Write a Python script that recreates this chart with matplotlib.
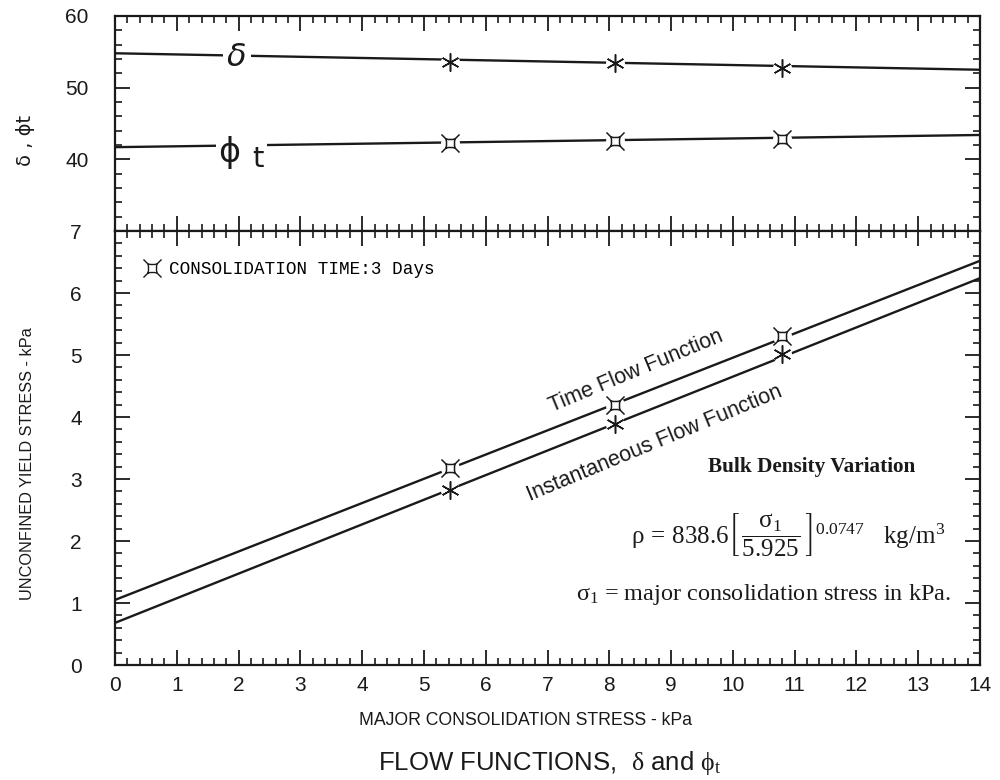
import numpy as np
import matplotlib
matplotlib.use("Agg")
import matplotlib.pyplot as plt
from matplotlib.path import Path
from matplotlib.lines import Line2D
from matplotlib.ticker import MultipleLocator

# ---------------- data ----------------
x_line = [0.0, 14.0]                      # ends of fitted lines
x_pts = [5.42, 8.1, 10.8]                 # consolidation stresses tested

delta_line = [54.8, 52.5]
delta_pts = [53.6, 53.4, 52.7]
phit_line = [41.7, 43.4]
phit_pts = [42.3, 42.6, 42.9]

time_ff_line = [1.05, 6.52]
time_ff_pts = [3.17, 4.2, 5.3]
inst_ff_line = [0.68, 6.24]
inst_ff_pts = [2.83, 3.88, 5.02]

x_ticks = list(range(0, 15))
y_ticks_bottom = list(range(0, 8))
y_ticks_top = [40, 50, 60]

plt.rcParams['font.family'] = ['Liberation Sans', 'DejaVu Sans']
plt.rcParams['mathtext.fontset'] = 'custom'
plt.rcParams['mathtext.rm'] = 'Liberation Serif'
plt.rcParams['mathtext.it'] = 'Liberation Serif'
plt.rcParams['mathtext.bf'] = 'Liberation Serif:bold'
plt.rcParams['mathtext.fallback'] = 'stix'
INK = '#1a1a1a'

# custom "time" marker: concave square with corner spikes
s = 0.42
verts = [(-s, -s), (0, -0.25), (s, -s),
         (0.25, 0), (s, s),
         (0, 0.25), (-s, s),
         (-0.25, 0), (-s, -s),
         (s, -s), (0.8, -0.8),
         (s, s), (0.8, 0.8),
         (-s, s), (-0.8, 0.8),
         (-s, -s), (-0.8, -0.8)]
codes = [Path.MOVETO, Path.CURVE3, Path.CURVE3,
         Path.CURVE3, Path.CURVE3,
         Path.CURVE3, Path.CURVE3,
         Path.CURVE3, Path.CURVE3,
         Path.MOVETO, Path.LINETO,
         Path.MOVETO, Path.LINETO,
         Path.MOVETO, Path.LINETO,
         Path.MOVETO, Path.LINETO]
time_marker = Path(verts, codes)
star_marker = (6, 2, 0)

fig = plt.figure(figsize=(10, 7.8), dpi=100)
ax_top = fig.add_axes([0.115, 0.7038, 0.865, 0.2757])
ax = fig.add_axes([0.115, 0.1474, 0.865, 0.5564], sharex=ax_top)

def style(a):
    for sp in a.spines.values():
        sp.set_linewidth(1.6)
        sp.set_color(INK)
    a.tick_params(which='both', direction='in', top=True, right=True,
                  color=INK, labelcolor=INK, labelsize=15)
    a.tick_params(which='major', length=11, width=1.3)
    a.tick_params(which='minor', length=5, width=1.2)

def series(a, xl, yl, xp, yp, marker, ms):
    a.plot(xl, yl, color=INK, lw=1.7, zorder=2)
    a.plot(xp, yp, ls='none', marker='o', ms=ms * 1.05, mfc='white',
           mec='none', zorder=3)
    a.plot(xp, yp, ls='none', marker=marker, ms=ms, mfc='none',
           mec=INK, mew=1.1, zorder=4)

# ---------------- top panel ----------------
style(ax_top)
ax_top.set_xlim(0, 14)
ax_top.set_ylim(30, 60)
ax_top.set_yticks(y_ticks_top)
ax_top.yaxis.set_minor_locator(MultipleLocator(2))
ax_top.xaxis.set_minor_locator(MultipleLocator(0.2))
ax_top.tick_params(axis='x', labelbottom=False)
ax_top.tick_params(axis='y', pad=19)
series(ax_top, x_line, delta_line, x_pts, delta_pts, star_marker, 13)
series(ax_top, x_line, phit_line, x_pts, phit_pts, time_marker, 13)
ax_top.text(1.97, 54.2, 'δ', fontsize=23, style='italic',
            family=['DejaVu Sans'], ha='center', va='center', color=INK,
            zorder=5, bbox=dict(fc='white', ec='none', pad=3))
ax_top.text(1.68, 41.0, 'ϕ\u2009', fontsize=24,
            family=['DejaVu Sans'], ha='left', va='center',
            color=INK, zorder=5, bbox=dict(fc='white', ec='none', pad=2))
ax_top.text(2.32, 40.0, 't', fontsize=21, family=['DejaVu Sans'],
            ha='center', va='center', color=INK, zorder=5,
            bbox=dict(fc='white', ec='none', pad=2))
ax_top.set_ylabel('δ , ϕt', fontsize=14, color=INK,
                  family=['DejaVu Sans'])

# ---------------- bottom panel ----------------
style(ax)
ax.set_xlim(0, 14)
ax.set_ylim(0, 7)
ax.set_xticks(x_ticks)
ax.set_yticks(y_ticks_bottom)
ax.xaxis.set_minor_locator(MultipleLocator(0.2))
ax.yaxis.set_minor_locator(MultipleLocator(0.2))
ax.tick_params(axis='y', pad=24)
ax.tick_params(axis='x', pad=8)
series(ax, x_line, time_ff_line, x_pts, time_ff_pts, time_marker, 13)
series(ax, x_line, inst_ff_line, x_pts, inst_ff_pts, star_marker, 13)

ax.text(8.44, 4.74, 'Time Flow Function', rotation=22.5, fontsize=15.5,
        ha='center', va='center', color=INK, rotation_mode='anchor')
ax.text(8.74, 3.58, 'Instantaneous Flow Function', rotation=22.5,
        fontsize=15.5, ha='center', va='center', color=INK,
        rotation_mode='anchor')

serif = ['Liberation Serif', 'DejaVu Serif']
ax.text(11.28, 3.2, 'Bulk Density Variation', fontsize=15.3, weight='bold',
        family=serif, ha='center', va='center', color=INK)
ax.text(10.9, 2.1,
        r'$\rho\, =\, 838.6 \left[\,\dfrac{\sigma_1}{5.925}\,\right]^{0.0747}'
        r'\quad \mathrm{kg/m^3}$',
        fontsize=18, ha='center', va='center', color=INK)
ax.text(10.5, 1.13, r'$\sigma_1$ = major consolidation stress in kPa.',
        fontsize=17.5, family=serif, ha='center', va='center', color=INK)

h = Line2D([], [], ls='none', marker=time_marker, ms=13, mfc='none',
           mec=INK, mew=1.0)
ax.legend([h], ['CONSOLIDATION TIME:3 Days'], loc='upper left',
          bbox_to_anchor=(0.012, 0.972), frameon=False, handlelength=1.0,
          handletextpad=0.5, borderaxespad=0.6,
          prop=dict(family=['Liberation Mono', 'DejaVu Sans Mono'],
                    size=12.7))

ax.set_xlabel('MAJOR CONSOLIDATION STRESS - kPa', fontsize=12.7,
              color=INK)
ax.xaxis.set_label_coords(0.475, -0.109)
ax.set_ylabel('UNCONFINED YIELD STRESS - kPa', fontsize=11.7, color=INK)
ax.yaxis.set_label_coords(-0.093, 0.465)
ax_top.yaxis.set_label_coords(-0.093, 0.42)

fig.text(0.55, 0.022, r'FLOW FUNCTIONS,  $\delta$ and $\phi_{\mathrm{t}}$',
         fontsize=18.5, ha='center', va='center', color=INK)

fig.savefig('out.png', dpi=100, facecolor='white')
